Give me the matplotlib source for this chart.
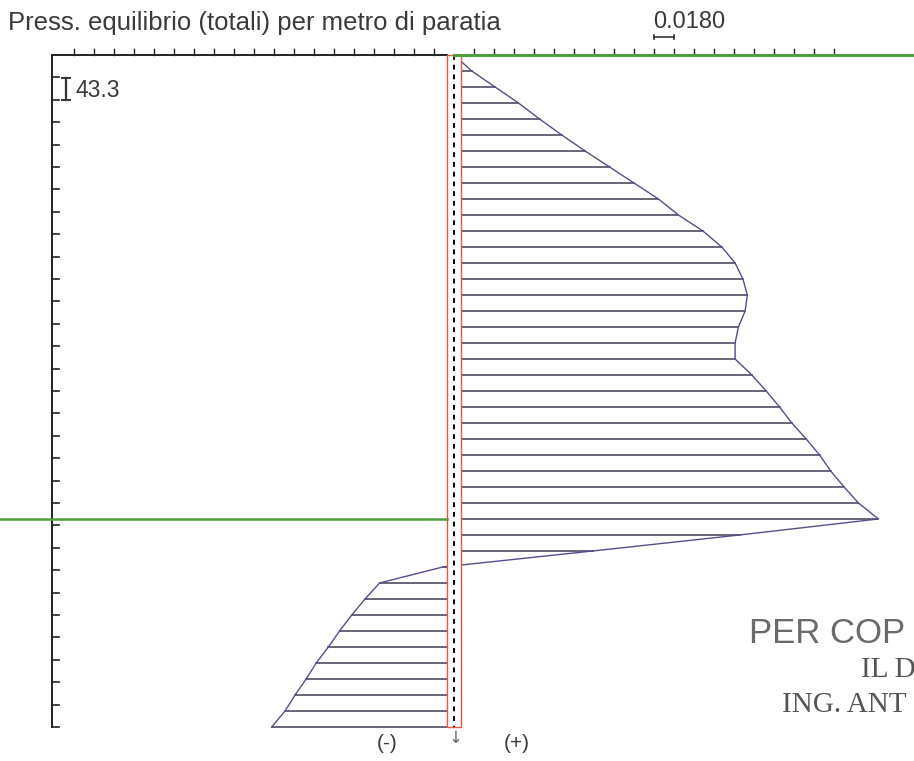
import numpy as np
import matplotlib
matplotlib.use('Agg')
import matplotlib.pyplot as plt
from matplotlib.patches import Rectangle

# equilibrium pressure (totals) at each calculation node, top to bottom
pressione = [0.000, 0.016, 0.037, 0.058, 0.077, 0.097, 0.118, 0.140, 0.162, 0.184,
             0.202, 0.224, 0.241, 0.253, 0.260, 0.264, 0.262, 0.256, 0.253, 0.253,
             0.268, 0.281, 0.293, 0.304, 0.317, 0.329, 0.339, 0.351, 0.364, 0.382,
             0.257, 0.125, -0.010, -0.067, -0.080, -0.092, -0.103, -0.113, -0.124, -0.133,
             -0.143, -0.152, -0.164]
lunghezza_paratia = 15.0          # wall length (m)
passo_tacche = 0.5                # depth tick step (m)
quota_scavo = 10.36               # excavation level (m)
scala = 0.018                     # pressure scale bar
n_tacche_press = 19

titolo = 'Press. equilibrio (totali) per metro di paratia'
scala_label = '0.0180'
scala_vert_label = '43.3'
segni = ['(-)', '(+)']
timbro = ['PER COP', 'IL D', 'ING. ANT']

profondita = np.linspace(0, lunghezza_paratia, len(pressione))

c_diag = '#50508f'
c_hatch = '#3d3d55'
c_verde = '#4f9e3f'
c_rosso = '#e5583f'
c_testo = '#3a3a3a'

fig = plt.figure(figsize=(9.14, 7.61), dpi=100)
ax = fig.add_axes([0, 0, 1, 1])
ax.set_xlim(-0.4086, 0.414)
ax.set_ylim(15.76, -1.228)
ax.axis('off')

# hatching from the wall to the diagram outline
for d, p in zip(profondita, pressione):
    ax.plot([0, p], [d, d], color=c_hatch, lw=1.1, zorder=2)
ax.plot(pressione, profondita, color=c_diag, lw=1.0, zorder=2)

# wall
ax.add_patch(Rectangle((-0.0063, 0), 0.0126, lunghezza_paratia, facecolor='white',
                       edgecolor=c_rosso, lw=1.0, zorder=3))
ax.plot([0, 0], [0, lunghezza_paratia], color='black', lw=1.4, ls=(0, (2.5, 2.5)), zorder=4)

# depth axis on the left
x_ax = -0.3618
ax.plot([x_ax, x_ax], [0, lunghezza_paratia], color='#222222', lw=1.4, zorder=2)
ax.plot([x_ax, -0.0063], [0, 0], color='#222222', lw=1.4, zorder=2)
for d in np.arange(passo_tacche, lunghezza_paratia + 0.01, passo_tacche):
    ax.plot([x_ax, x_ax + 0.0063], [d, d], color='#222222', lw=1.2)

# pressure ticks along the top
for k in range(-n_tacche_press, n_tacche_press + 1):
    if k == 0:
        continue
    ax.plot([k * scala, k * scala], [0, -0.13], color='#222222', lw=1.0)

# ground and excavation levels
ax.plot([0, 0.414], [0, 0], color=c_verde, lw=2.2, zorder=5)
ax.plot([-0.4086, -0.0063], [quota_scavo, quota_scavo], color=c_verde, lw=1.8, zorder=5)

# scale bars
ax.plot([10 * scala, 11 * scala], [-0.40, -0.40], color='#333333', lw=1.2)
for xb in (10 * scala, 11 * scala):
    ax.plot([xb, xb], [-0.45, -0.35], color='#333333', lw=1.2)
ax.text(10 * scala - 0.001, -0.60, scala_label, fontsize=17, family='Liberation Sans',
        color=c_testo, va='baseline', ha='left')

xi = -0.3492
ax.plot([xi, xi], [0.52, 1.0], color='#333333', lw=1.6)
for d in (0.52, 1.0):
    ax.plot([xi - 0.0036, xi + 0.0036], [d, d], color='#333333', lw=1.4)
ax.text(-0.3411, 0.80, scala_vert_label, fontsize=16.5, family='Liberation Sans',
        color=c_testo, va='center', ha='left')

ax.text(-0.4014, -0.558, titolo, fontsize=18.5, family='Liberation Sans',
        color=c_testo, va='baseline', ha='left')

# sign labels under the wall
ax.text(-0.0603, 15.36, segni[0], fontsize=15, family='Liberation Sans',
        color=c_testo, va='center', ha='center')
ax.text(0.0567, 15.36, segni[1], fontsize=15, family='Liberation Sans',
        color=c_testo, va='center', ha='center')
ax.text(0.0018, 15.25, '\u2193', fontsize=12, color='#666666', va='center', ha='center')

# stamp
ax.text(0.2655, 13.125, timbro[0], fontsize=25, family='Liberation Sans',
        color='#6a6a6a', va='baseline', ha='left')
ax.text(0.3660, 13.884, timbro[1], fontsize=21, family='Liberation Serif',
        color='#555555', va='baseline', ha='left')
ax.text(0.2950, 14.665, timbro[2], fontsize=21, family='Liberation Serif',
        color='#555555', va='baseline', ha='left')

fig.savefig('out.png', dpi=100)
